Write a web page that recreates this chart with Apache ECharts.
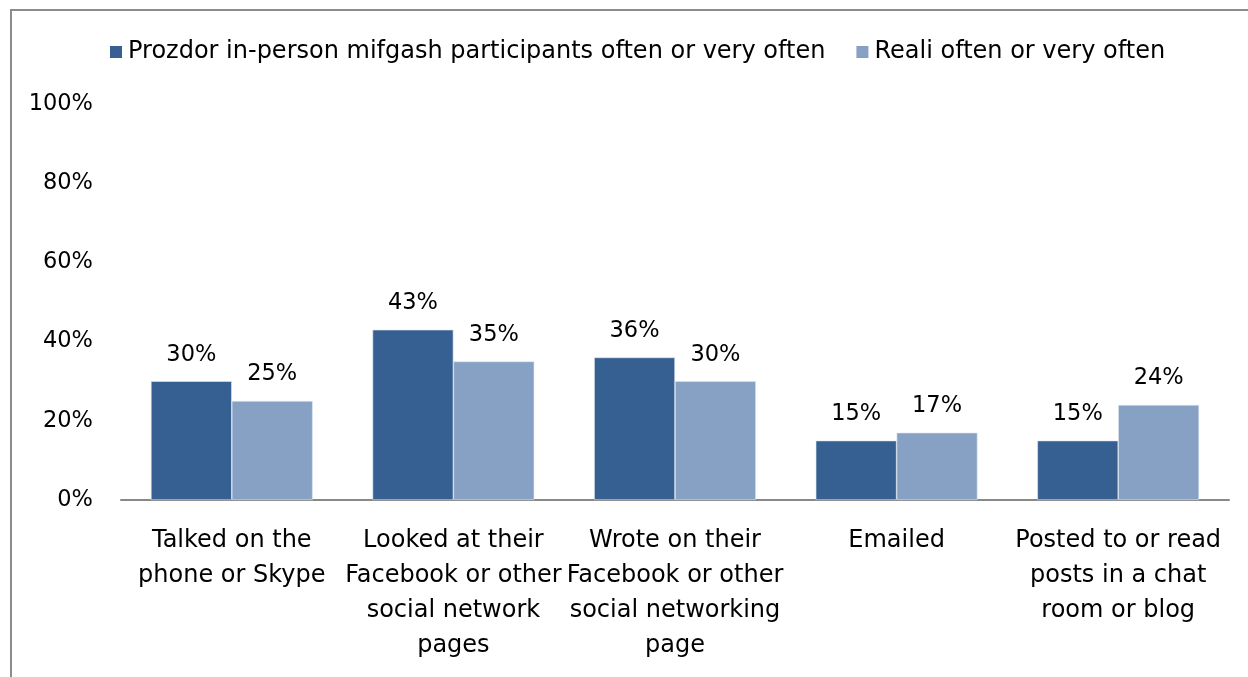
<!DOCTYPE html>
<html>
<head>
<meta charset="utf-8">
<script src="https://cdn.jsdelivr.net/npm/echarts@6/dist/echarts.min.js"></script>
<style>
  html, body { margin: 0; padding: 0; background: #fff; }
  #chart { width: 1248px; height: 677px; }
</style>
</head>
<body>
<div id="chart"></div>
<script>
// Activities of contact, one label per bar group
const categories = [
  'Talked on the\nphone or Skype',
  'Looked at their\nFacebook or other\nsocial network\npages',
  'Wrote on their\nFacebook or other\nsocial networking\npage',
  'Emailed',
  'Posted to or read\nposts in a chat\nroom or blog'
];
const seriesNames = [
  'Prozdor in-person mifgash participants often or very often',
  'Reali often or very often'
];
const prozdorValues = [30, 43, 36, 15, 15];
const realiValues = [25, 35, 30, 17, 24];
const yTicks = [0, 20, 40, 60, 80, 100];

const FONT = '"DejaVu Sans", "Noto Sans", sans-serif';
const FS = 22.5;
const FS_TEXT = 24;
const chart = echarts.init(document.getElementById('chart'), null, { renderer: 'canvas' });

const labelStyle = {
  show: true,
  position: 'top',
  distance: 15,
  formatter: p => p.value + '%',
  fontFamily: FONT,
  fontSize: FS,
  color: '#000'
};

chart.setOption({
  animation: false,
  backgroundColor: '#fff',
  graphic: [{
    type: 'rect',
    shape: { x: 11, y: 10, width: 1300, height: 720 },
    style: { fill: 'none', stroke: '#8c8c8c', lineWidth: 2 },
    silent: true
  }],
  legend: {
    data: seriesNames,
    left: 110,
    top: 40,
    padding: 0,
    icon: 'rect',
    itemWidth: 12,
    itemHeight: 12,
    itemGap: 31,
    itemStyle: { borderWidth: 0 },
    textStyle: { fontFamily: FONT, fontSize: FS_TEXT, color: '#000', padding: [0, 0, 0, 1] }
  },
  grid: { left: 121, right: 19, top: 104, bottom: 177, containLabel: false },
  xAxis: {
    type: 'category',
    data: categories,
    axisLine: { lineStyle: { color: '#888', width: 2 } },
    axisTick: { show: false },
    axisLabel: {
      interval: 0,
      margin: 23,
      fontFamily: FONT,
      fontSize: FS_TEXT,
      lineHeight: 35,
      color: '#000'
    }
  },
  yAxis: {
    type: 'value',
    min: yTicks[0],
    max: yTicks[yTicks.length - 1],
    interval: 20,
    axisLine: { show: false },
    axisTick: { show: false },
    splitLine: { show: false },
    axisLabel: {
      margin: 28,
      formatter: v => v + '%',
      fontFamily: FONT,
      fontSize: FS,
      color: '#000'
    }
  },
  series: [
    {
      name: seriesNames[0],
      type: 'bar',
      data: prozdorValues,
      barGap: '0%',
      barCategoryGap: '27%',
      itemStyle: { color: '#376092', borderColor: '#dde6f0', borderWidth: 0.6 },
      label: labelStyle
    },
    {
      name: seriesNames[1],
      type: 'bar',
      data: realiValues,
      barGap: '0%',
      barCategoryGap: '27%',
      itemStyle: { color: '#87a1c5', borderColor: '#dde6f0', borderWidth: 0.6 },
      label: labelStyle
    }
  ]
});
</script>
</body>
</html>
